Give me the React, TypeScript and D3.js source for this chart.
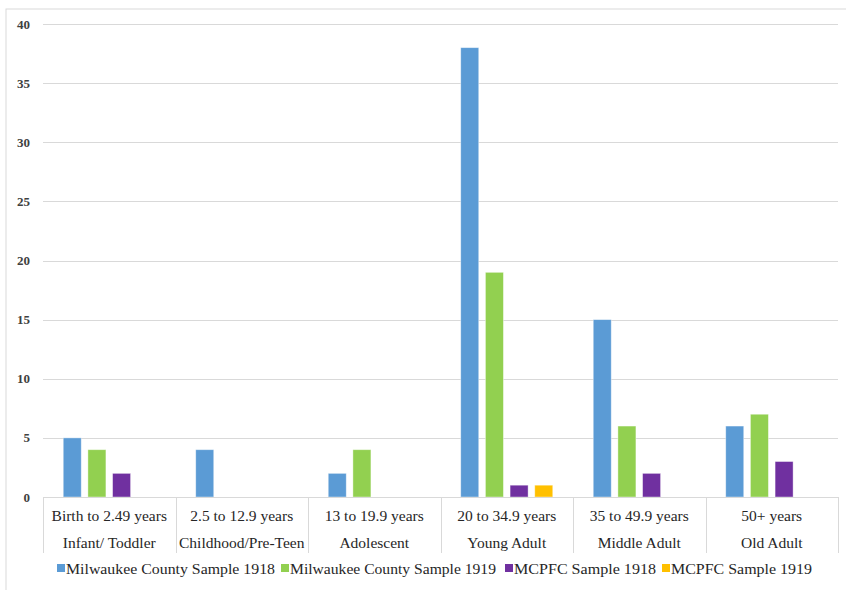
import React from "react";
import * as d3 from "d3";

const ageRanges = ["Birth to 2.49 years", "2.5 to 12.9 years", "13 to 19.9 years", "20 to 34.9 years", "35 to 49.9 years", "50+ years"];
const stageNames = ["Infant/ Toddler", "Childhood/Pre-Teen", "Adolescent", "Young Adult", "Middle Adult", "Old Adult"];
const seriesNames = ["Milwaukee County Sample 1918", "Milwaukee County Sample 1919", "MCPFC Sample 1918", "MCPFC Sample 1919"];
const milwaukee1918 = [5, 4, 2, 38, 15, 6];
const milwaukee1919 = [4, 0, 4, 19, 6, 7];
const mcpfc1918 = [2, 0, 0, 1, 2, 3];
const mcpfc1919 = [0, 0, 0, 1, 0, 0];
const yTicks = [0, 5, 10, 15, 20, 25, 30, 35, 40];
const colors = ["#5B9BD5", "#92D050", "#7030A0", "#FFC000"];

export default function App() {
  const W = 846, H = 590;
  const left = 43, right = 838, top = 24, bottom = 497;
  const series = [milwaukee1918, milwaukee1919, mcpfc1918, mcpfc1919];
  const x = d3.scaleBand<number>().domain(d3.range(ageRanges.length)).range([left, right]).padding(0);
  const y = d3.scaleLinear().domain([0, 40]).range([bottom, top]);
  const inner = d3.scaleBand<number>().domain(d3.range(4)).range([0, x.bandwidth()]).paddingInner(0.27).paddingOuter(0.82);
  const serif = "Liberation Serif, DejaVu Serif, serif";
  const legendX = [57, 281, 505, 662];
  const legendW = [209, 206, 142, 141];
  const txt = { fontFamily: serif };
  return (
    <svg width={W} height={H} style={{ position: "absolute", left: 0, top: 0, background: "#fff" }}>
      <rect x={6} y={9} width={W + 10} height={H + 10} fill="#fff" stroke="#d9d9d9" strokeWidth={1} />
      {yTicks.map((t) => (
        <g key={t}>
          {t > 0 && <line x1={left} x2={right} y1={Math.round(y(t)) + 0.5} y2={Math.round(y(t)) + 0.5} stroke="#d9d9d9" strokeWidth={1} />}
          <text x={30} y={y(t)} dy="0.35em" textAnchor="end" style={txt} fontSize={13} fontWeight="bold" fill="#404040">{t}</text>
        </g>
      ))}
      {series.map((vals, si) =>
        vals.map((v, ci) =>
          v > 0 ? (
            <rect key={si + "-" + ci} x={x(ci)! + inner(si)!} y={y(v)} width={inner.bandwidth()} height={bottom - y(v)} fill={colors[si]} stroke="rgba(255,255,255,0.5)" strokeWidth={0.8} />
          ) : null
        )
      )}
      <line x1={left} x2={right} y1={bottom + 0.5} y2={bottom + 0.5} stroke="#d9d9d9" />
      {d3.range(ageRanges.length + 1).map((i) => {
        const xx = Math.round(i < ageRanges.length ? x(i)! : right) + 0.5;
        return <line key={i} x1={xx} x2={xx} y1={bottom} y2={553} stroke="#d9d9d9" />;
      })}
      {ageRanges.map((a, i) => (
        <g key={a}>
          <text x={x(i)! + x.bandwidth() / 2} y={521} textAnchor="middle" style={txt} fontSize={15.5} fill="#262626">{a}</text>
          <text x={x(i)! + x.bandwidth() / 2} y={548} textAnchor="middle" style={txt} fontSize={15.5} fill="#262626">{stageNames[i]}</text>
        </g>
      ))}
      {seriesNames.map((n, i) => (
        <g key={n}>
          <rect x={legendX[i]} y={564} width={8} height={8} fill={colors[i]} />
          <text x={legendX[i] + 9} y={574} style={txt} fontSize={15} fill="#262626" textLength={legendW[i]} lengthAdjust="spacingAndGlyphs">{n}</text>
        </g>
      ))}
    </svg>
  );
}
